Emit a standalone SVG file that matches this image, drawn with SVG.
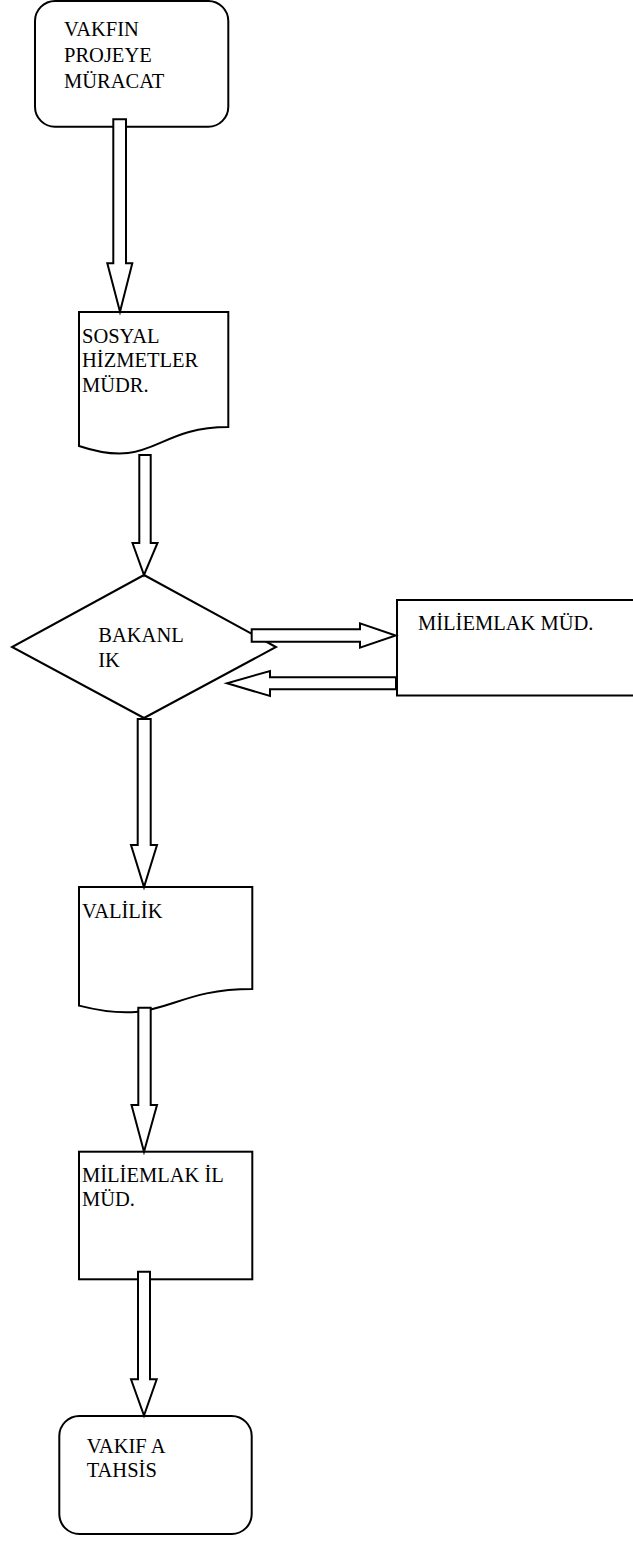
<svg xmlns="http://www.w3.org/2000/svg" width="633" height="1544" viewBox="0 0 633 1544">
<style>
.s{fill:#fff;stroke:#000;stroke-width:2;stroke-linejoin:miter}
text{font-family:"Liberation Serif","Times New Roman",Times,serif;font-size:20.5px;fill:#000}
</style>
<rect width="633" height="1544" fill="#fff"/>
<g id="n1"><rect class="s" x="35" y="1" width="193.3" height="125.7" rx="20"/>
<text font-family="Liberation Serif, Times New Roman, serif"><tspan x="64" y="35.5">VAKFIN</tspan><tspan x="64" y="61.5">PROJEYE</tspan><tspan x="64" y="87.5">MÜRACAT</tspan></text></g>
<g id="n2"><path class="s" d="M79,312 H228.3 V427 C153.6,427 153.6,470.8 79,446 Z"/>
<text font-family="Liberation Serif, Times New Roman, serif"><tspan x="82" y="343.3">SOSYAL</tspan><tspan x="82" y="367.3">HİZMETLER</tspan><tspan x="82" y="391.5">MÜDR.</tspan></text></g>
<g id="n3"><polygon class="s" points="144,575 276,647 144,718 12,647"/>
<text font-family="Liberation Serif, Times New Roman, serif"><tspan x="98.3" y="641.7">BAKANL</tspan><tspan x="98.3" y="666.7">IK</tspan></text></g>
<g id="n4"><rect class="s" x="397" y="600" width="240" height="95.5"/>
<text font-family="Liberation Serif, Times New Roman, serif" x="418" y="630">MİLİEMLAK MÜD.</text></g>
<g id="n5"><path class="s" d="M79,887 H252.3 V989 C165.6,989 165.6,1027.6 79,1005.6 Z"/>
<text font-family="Liberation Serif, Times New Roman, serif" x="82" y="918.3">VALİLİK</text></g>
<g id="n6"><rect class="s" x="79" y="1151.7" width="173.3" height="127.6"/>
<text font-family="Liberation Serif, Times New Roman, serif"><tspan x="82" y="1181.7">MİLİEMLAK İL</tspan><tspan x="82" y="1205.5">MÜD.</tspan></text></g>
<g id="n7"><rect class="s" x="59.3" y="1416" width="192.4" height="118" rx="20"/>
<text font-family="Liberation Serif, Times New Roman, serif"><tspan x="86.7" y="1452.7">VAKIF A</tspan><tspan x="86.7" y="1476.7">TAHSİS</tspan></text></g>
<g id="connectors">
<polygon class="s" points="113.3,119.3 126,119.3 126,263.3 132.3,263.3 120,311.7 107.3,263.3 113.3,263.3"/>
<polygon class="s" points="139.3,455 150.7,455 150.7,543 157.5,543 144,575 132.5,543 139.3,543"/>
<polygon class="s" points="251.7,629.3 360,629.3 360,623.3 395.7,635.5 360,647.7 360,641.7 251.7,641.7"/>
<polygon class="s" points="396,677.3 270,677.3 270,671 227,683.3 270,696 270,689.3 396,689.3"/>
<polygon class="s" points="137.7,719 150.7,719 150.7,845 157,845 144,887 131,845 137.7,845"/>
<polygon class="s" points="138.3,1007.7 150.7,1007.7 150.7,1105 157,1105 144,1151.7 131.5,1105 138.3,1105"/>
<polygon class="s" points="138,1271.7 150,1271.7 150,1379.3 156.7,1379.3 144,1415.5 131,1379.3 138,1379.3"/>
</g>
</svg>
